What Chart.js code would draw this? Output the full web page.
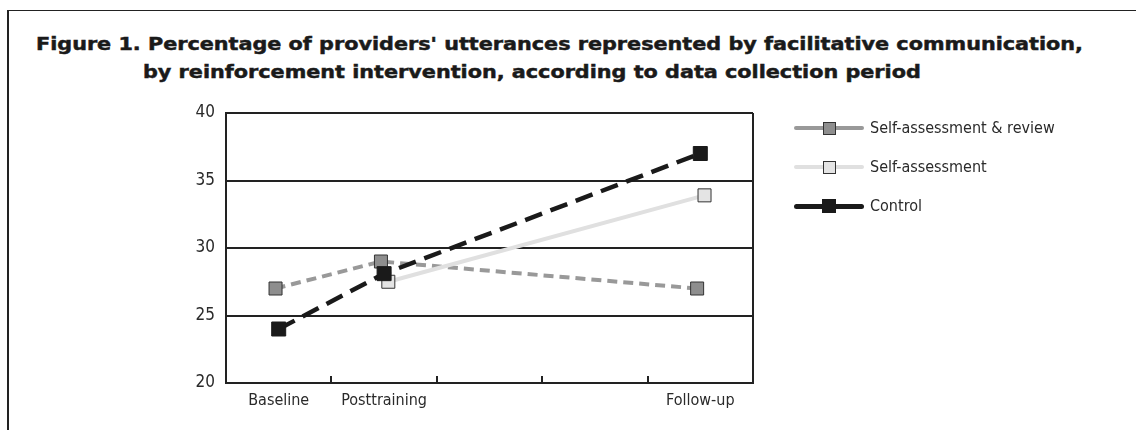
<!DOCTYPE html>
<html><head><meta charset="utf-8">
<script src="https://cdn.jsdelivr.net/npm/chart.js@4.4.0/dist/chart.umd.min.js"></script>
<style>
html,body{margin:0;padding:0;background:#fff;}
body{width:1136px;height:430px;position:relative;overflow:hidden;}
#frame{position:absolute;left:7px;top:10px;width:1140px;height:430px;border-top:1px solid #222;border-left:2px solid #222;}
.title{position:absolute;font-family:'DejaVu Sans',sans-serif;font-weight:bold;font-size:18px;line-height:18px;color:#1a1a1a;white-space:nowrap;transform-origin:0 0;-webkit-text-stroke:0.5px #1a1a1a;}
#t1{left:36px;top:35px;}
#t2{left:143px;top:63px;}
#chartWrap{position:absolute;left:0;top:0;width:1136px;height:430px;}
.lgLine{position:absolute;height:4px;border-radius:2.5px;}
.lgMark{position:absolute;box-sizing:border-box;border:1px solid #333;}
.lgText{position:absolute;font-family:'DejaVu Sans Condensed','Liberation Sans',sans-serif;font-size:16px;color:#2a2a2a;white-space:nowrap;line-height:20px;}
</style></head>
<body>
<div id="frame"></div>
<div class="title" id="t1">Figure 1. Percentage of providers' utterances represented by facilitative communication,</div>
<div class="title" id="t2">by reinforcement intervention, according to data collection period</div>
<div id="chartWrap"><canvas id="c" width="1136" height="430"></canvas></div>
<div id="legend"></div>
<script>
// ---- data ----
const periods = ['Baseline', 'Posttraining', 'Follow-up'];
const periodAt = [0.5, 1.5, 4.5];          // place of each period on a 0–5 time axis
const seriesNames = ['Self-assessment & review', 'Self-assessment', 'Control'];
const selfAssessmentReview = [27, 29, 27];
const selfAssessment = [null, 27.5, 33.9];
const control = [24, 28.1, 37];
const yTicks = [20, 25, 30, 35, 40];

// ---- styles ----
const styles = [
  {line:'#999999', fill:'#8e8e8e', dash:[10,6], width:4, dodge:-0.03, order:2, lgLine:'#999999', lgW:4, mark:13},
  {line:'#e0e0e0', fill:'#e4e4e4', dash:[], width:4, dodge:0.04, order:1, lgLine:'#e0e0e0', lgW:4, mark:13},
  {line:'#1a1a1a', fill:'#1a1a1a', dash:[18,9], width:4.5, dodge:0, order:0, lgLine:'#1a1a1a', lgW:5, mark:14}
];
const allValues = [selfAssessmentReview, selfAssessment, control];

// fit title width by horizontal stretch
(function(){
  const t1 = document.getElementById('t1'), t2 = document.getElementById('t2');
  const target = 1047;
  const w = t1.getBoundingClientRect().width;
  const k = target / w;
  t1.style.transform = 'scaleX(' + k + ')';
  t2.style.transform = 'scaleX(' + k + ')';
})();

const FONT = "'DejaVu Sans Condensed','Liberation Sans',sans-serif";
Chart.defaults.font.family = FONT;
Chart.defaults.color = '#2a2a2a';

const datasets = allValues.map((vals, s) => ({
  label: seriesNames[s],
  data: vals.map((v, i) => v == null ? null : {x: periodAt[i] + styles[s].dodge, y: v}).filter(p => p),
  borderColor: styles[s].line,
  borderWidth: styles[s].width,
  borderDash: styles[s].dash,
  backgroundColor: styles[s].fill,
  pointStyle: 'rect',
  pointRadius: styles[s].mark / Math.SQRT2,
  pointHoverRadius: styles[s].mark / Math.SQRT2,
  pointBackgroundColor: styles[s].fill,
  pointBorderColor: s === 2 ? '#1a1a1a' : '#333',
  pointBorderWidth: 1,
  tension: 0,
  order: styles[s].order,
  fill: false
}));

const chart = new Chart(document.getElementById('c'), {
  type: 'line',
  data: {datasets},
  options: {
    responsive: false,
    animation: false,
    events: [],
    layout: {padding: {left: 176, right: 383, top: 113, bottom: 17}},
    plugins: {legend: {display: false}, tooltip: {enabled: false}, title: {display: false}},
    scales: {
      x: {
        type: 'linear', min: 0, max: 5,
        afterFit: s => { s.height = 30; },
        afterBuildTicks: s => { s.ticks = Array.from({length: 11}, (_, i) => ({value: i * 0.5})); },
        border: {display: true, color: '#222', width: 2},
        grid: {
          drawOnChartArea: true, drawTicks: true, tickLength: -7,
          lineWidth: 2,
          color: c => (c.tick && c.tick.value === 5) ? '#222' : 'rgba(0,0,0,0)',
          tickColor: c => (c.tick && Number.isInteger(c.tick.value) && c.tick.value > 0 && c.tick.value < 5) ? '#222' : 'rgba(0,0,0,0)',
          tickWidth: 2
        },
        ticks: {
          autoSkip: false, maxRotation: 0, padding: 15,
          font: {size: 16},
          callback: v => { const i = periodAt.indexOf(v); return i >= 0 ? periods[i] : ''; }
        }
      },
      y: {
        min: 20, max: 40,
        afterFit: s => { s.width = 50; },
        afterBuildTicks: s => { s.ticks = yTicks.map(v => ({value: v})); },
        border: {display: true, color: '#222', width: 2},
        grid: {color: '#222', lineWidth: 2, drawTicks: false},
        ticks: {padding: 11, font: {size: 17}}
      }
    }
  }
});

// legend (built from datasets)
(function(){
  const lg = document.getElementById('legend');
  const rows = [128, 167, 206];
  datasets.forEach((d, s) => {
    const st = styles[s];
    const cy = rows[s];
    const line = document.createElement('div');
    line.className = 'lgLine';
    line.style.left = '794px'; line.style.width = '70px';
    line.style.height = st.lgW + 'px';
    line.style.top = (cy - st.lgW / 2) + 'px';
    line.style.background = st.lgLine;
    lg.appendChild(line);
    const m = document.createElement('div');
    m.className = 'lgMark';
    m.style.width = st.mark + 'px'; m.style.height = st.mark + 'px';
    m.style.left = (829 - st.mark / 2) + 'px';
    m.style.top = (cy - st.mark / 2) + 'px';
    m.style.background = st.fill;
    if (s === 2) m.style.borderColor = '#1a1a1a';
    lg.appendChild(m);
    const t = document.createElement('div');
    t.className = 'lgText';
    t.textContent = d.label;
    t.style.left = '870px';
    t.style.top = (cy - 10) + 'px';
    lg.appendChild(t);
  });
})();
</script>
</body></html>
